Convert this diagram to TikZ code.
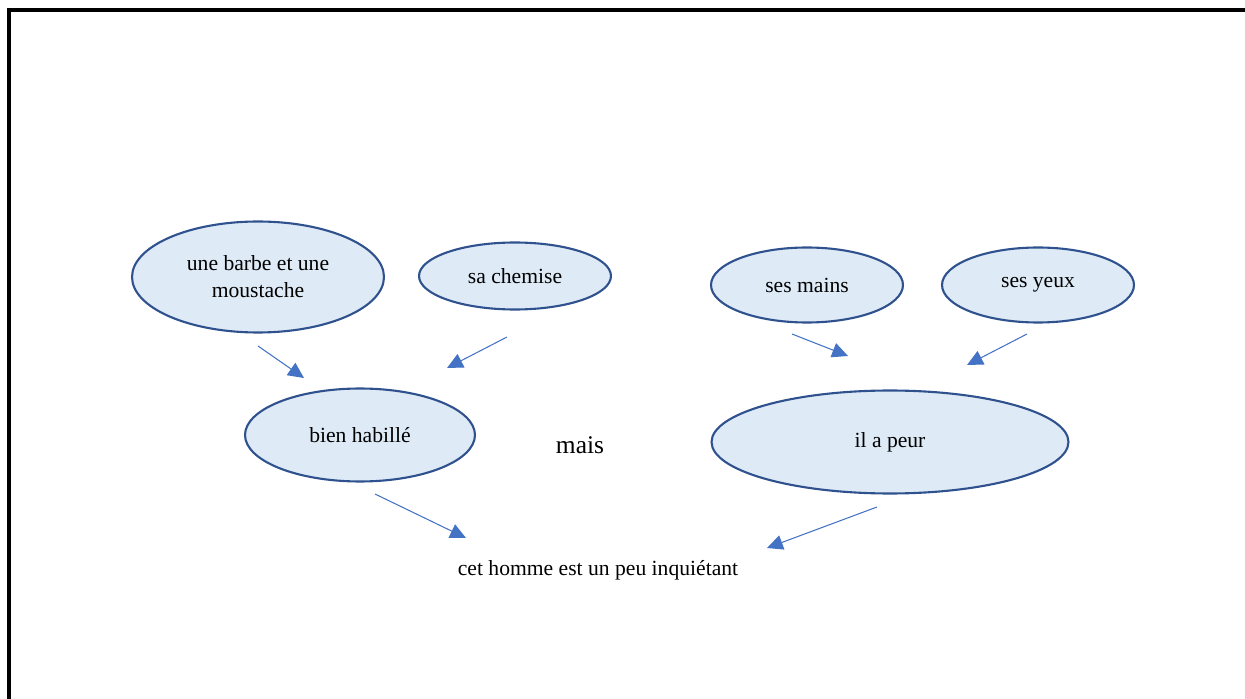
\documentclass[tikz,border=0pt]{standalone}
\usepackage{fontspec}
\setmainfont{Liberation Serif}
\usepackage{xcolor}
\usetikzlibrary{arrows.meta,shapes.geometric}
\definecolor{bulleFond}{HTML}{DEEAF6}
\definecolor{bulleBord}{HTML}{2F528F}
\definecolor{flecheBleu}{HTML}{4472C4}
\begin{document}
\begin{tikzpicture}[x=0.02cm, y=-0.02cm,
  bulle/.style={ellipse, draw=bulleBord, fill=bulleFond, line width=1.2pt,
                inner sep=0pt, align=center,
                font=\fontsize{12.3}{15.3}\selectfont},
  fleche/.style={draw=flecheBleu, line width=0.6pt,
                 -{Triangle[length=9pt,width=8.5pt]}}]
\useasboundingbox (0,0) rectangle (1245,699);
% cadre
\draw[line width=2pt] (1245,10) -- (9,10) -- (9,699);

\node[bulle, minimum width=5.04cm, minimum height=2.22cm] (barbe) at (258,277)
     {une barbe et une\\moustache};
\node[bulle, minimum width=3.84cm, minimum height=1.34cm] (chemise) at (515,276) {sa chemise};
\node[bulle, minimum width=3.84cm, minimum height=1.5cm] (mains) at (807,285) {ses mains};
\node[bulle, minimum width=3.84cm, minimum height=1.5cm] (yeux) at (1038,285) {ses yeux};
\node[bulle, minimum width=4.6cm, minimum height=1.86cm] (habille) at (360,435) {bien habillé};
\node[bulle, minimum width=7.14cm, minimum height=2.06cm] (peur) at (890,442) {il a peur};
\node[font=\fontsize{14.5}{17}\selectfont] (mais) at (580,445) {mais};
\node[font=\fontsize{12.3}{15}\selectfont] (homme) at (598,570)
     {cet homme est un peu inquiétant};

% bouts des fleches
\coordinate (b1) at (258,346);  \coordinate (h1) at (304,378);
\coordinate (c1) at (507,337);  \coordinate (h2) at (447,368);
\coordinate (m1) at (792,334);  \coordinate (p1) at (848,356);
\coordinate (y1) at (1027,334); \coordinate (p2) at (967,365);
\coordinate (h3) at (375,494);  \coordinate (e1) at (466,538);
\coordinate (p3) at (877,507);  \coordinate (e2) at (767,548);

\draw[fleche] (b1) -- (h1);
\draw[fleche] (c1) -- (h2);
\draw[fleche] (m1) -- (p1);
\draw[fleche] (y1) -- (p2);
\draw[fleche] (h3) -- (e1);
\draw[fleche] (p3) -- (e2);
\end{tikzpicture}
\end{document}
